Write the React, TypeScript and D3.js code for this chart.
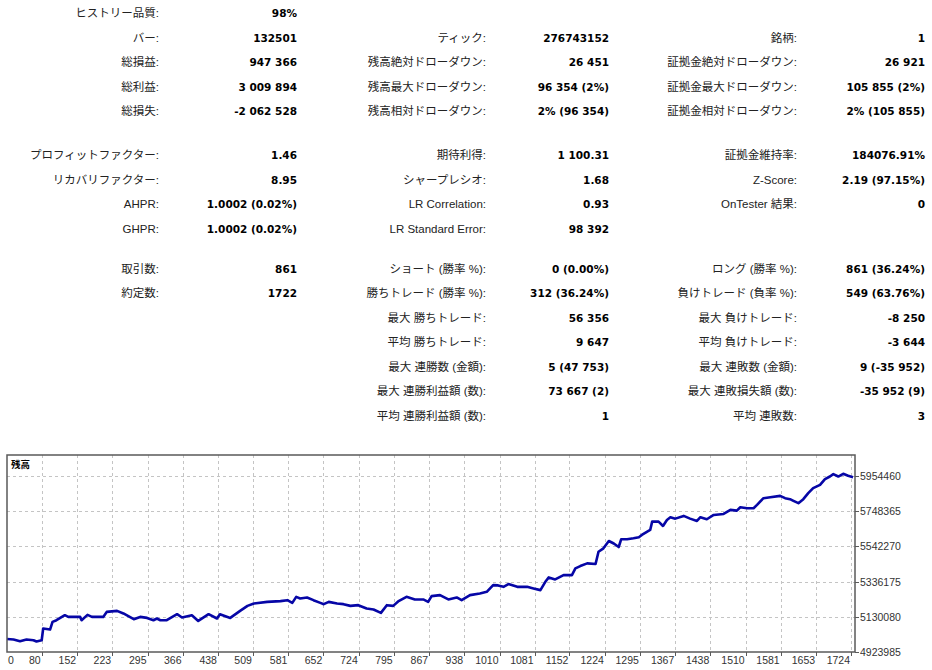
import * as d3 from "d3";

// --- report table ---
const col1Labels = ["ヒストリー品質:", "バー:", "総損益:", "総利益:", "総損失:", "プロフィットファクター:", "リカバリファクター:", "AHPR:", "GHPR:", "取引数:", "約定数:"];
const col1Values = ["98%", "132501", "947 366", "3 009 894", "-2 062 528", "1.46", "8.95", "1.0002 (0.02%)", "1.0002 (0.02%)", "861", "1722"];
const col1Rows = [0, 1, 2, 3, 4, 5, 6, 7, 8, 9, 10];

const col2Labels = ["ティック:", "残高絶対ドローダウン:", "残高最大ドローダウン:", "残高相対ドローダウン:", "期待利得:", "シャープレシオ:", "LR Correlation:", "LR Standard Error:", "ショート (勝率 %):", "勝ちトレード (勝率 %):", "最大 勝ちトレード:", "平均 勝ちトレード:", "最大 連勝数 (金額):", "最大 連勝利益額 (数):", "平均 連勝利益額 (数):"];
const col2Values = ["276743152", "26 451", "96 354 (2%)", "2% (96 354)", "1 100.31", "1.68", "0.93", "98 392", "0 (0.00%)", "312 (36.24%)", "56 356", "9 647", "5 (47 753)", "73 667 (2)", "1"];
const col2Rows = [1, 2, 3, 4, 5, 6, 7, 8, 9, 10, 11, 12, 13, 14, 15];

const col3Labels = ["銘柄:", "証拠金絶対ドローダウン:", "証拠金最大ドローダウン:", "証拠金相対ドローダウン:", "証拠金維持率:", "Z-Score:", "OnTester 結果:", "ロング (勝率 %):", "負けトレード (負率 %):", "最大 負けトレード:", "平均 負けトレード:", "最大 連敗数 (金額):", "最大 連敗損失額 (数):", "平均 連敗数:"];
const col3Values = ["1", "26 921", "105 855 (2%)", "2% (105 855)", "184076.91%", "2.19 (97.15%)", "0", "861 (36.24%)", "549 (63.76%)", "-8 250", "-3 644", "9 (-35 952)", "-35 952 (9)", "3"];
const col3Rows = [1, 2, 3, 4, 5, 6, 7, 9, 10, 11, 12, 13, 14, 15];

// --- balance chart ---
const tradeIndex = [0, 15, 30, 45, 61, 68, 80, 83, 97, 102, 110, 127, 134, 158, 161, 173, 182, 205, 212, 233, 246, 267, 280, 294, 307, 314, 321, 334, 355, 365, 385, 398, 419, 436, 442, 463, 483, 498, 511, 538, 565, 579, 589, 597, 605, 619, 632, 646, 653, 663, 680, 693, 707, 723, 740, 754, 769, 781, 794, 804, 821, 838, 855, 865, 872, 889, 906, 923, 933, 950, 970, 984, 997, 1007, 1018, 1028, 1046, 1066, 1079, 1093, 1103, 1110, 1123, 1140, 1157, 1164, 1174, 1188, 1205, 1211, 1221, 1232, 1242, 1252, 1257, 1269, 1282, 1293, 1299, 1310, 1316, 1320, 1333, 1342, 1350, 1357, 1367, 1384, 1397, 1411, 1418, 1431, 1445, 1465, 1479, 1492, 1499, 1513, 1526, 1533, 1546, 1560, 1580, 1590, 1600, 1607, 1617, 1627, 1637, 1647, 1661, 1671, 1681, 1688, 1698, 1708, 1718, 1728];
const balance = [5000000, 4996800, 4986800, 4996800, 4992700, 4985100, 4992700, 5061400, 5055500, 5100100, 5110100, 5139500, 5129500, 5129500, 5110100, 5141200, 5129500, 5129500, 5158800, 5164700, 5149500, 5116000, 5129500, 5123600, 5110100, 5120100, 5110100, 5110100, 5145300, 5126000, 5139500, 5106000, 5145300, 5120100, 5145300, 5123600, 5164700, 5194100, 5208200, 5217600, 5221700, 5227500, 5211700, 5246900, 5237500, 5243400, 5227500, 5211700, 5204100, 5217600, 5208200, 5204100, 5194100, 5198200, 5178800, 5172900, 5153000, 5198200, 5194100, 5219900, 5246900, 5231700, 5231700, 5217600, 5251000, 5256900, 5231700, 5243400, 5227500, 5256900, 5266900, 5276300, 5315600, 5313900, 5305600, 5321500, 5305600, 5305600, 5296200, 5286300, 5335000, 5360800, 5349100, 5374300, 5374300, 5413700, 5427200, 5443000, 5438900, 5511100, 5531100, 5574000, 5559300, 5538700, 5584000, 5584000, 5589800, 5595700, 5609200, 5628600, 5638600, 5687300, 5687300, 5662000, 5697300, 5713100, 5704900, 5720800, 5704900, 5691400, 5713100, 5701400, 5726600, 5732500, 5756000, 5751900, 5771800, 5766000, 5766000, 5785300, 5824700, 5830600, 5838200, 5824700, 5818800, 5808800, 5795300, 5818800, 5854000, 5883400, 5902800, 5936200, 5951500, 5965600, 5951500, 5967400, 5955600, 5947366];
const xTicks = [0, 80, 152, 223, 295, 366, 438, 509, 581, 652, 724, 795, 867, 938, 1010, 1081, 1152, 1224, 1295, 1367, 1438, 1510, 1581, 1653, 1724];
const yTicks = [4923985, 5130080, 5336175, 5542270, 5748365, 5954460];

const labelFont = "'Liberation Sans', 'Noto Sans CJK JP', sans-serif";
const valueFont = "'DejaVu Sans', 'Noto Sans CJK JP', sans-serif";

function Column({ labels, values, rows, labelX, valueX, rowY }: any) {
  return (
    <g>
      {labels.map((l: string, i: number) => (
        <g key={i}>
          <text x={labelX} y={rowY(rows[i]) + 4} textAnchor="end" fontFamily={labelFont} fontSize={11.5} fill="#222">{l}</text>
          <text x={valueX} y={rowY(rows[i]) + 4} textAnchor="end" fontFamily={valueFont} fontWeight="bold" fontSize={10.5} fill="#000">{values[i]}</text>
        </g>
      ))}
    </g>
  );
}

export default function App() {
  const W = 932;
  const H = 670;
  // row layout: three sections with extra spacing
  const sectionStart = [13, 155, 268.5];
  const sectionFirstRow = [0, 5, 9];
  const step = 24.5;
  const rowY = (r: number) => {
    const s = r >= 9 ? 2 : r >= 5 ? 1 : 0;
    return sectionStart[s] + (r - sectionFirstRow[s]) * step;
  };

  const frame = { left: 7, right: 855, top: 455, bottom: 652 };
  const x = d3.scaleLinear().domain([0, 80, 1732]).range([frame.left, 41.7, frame.right]);
  const y = d3.scaleLinear().domain([4923985, 6077500]).range([frame.bottom, frame.top]);
  const line = d3
    .line<number>()
    .x((_, i) => x(tradeIndex[i]))
    .y((d) => y(d));

  return (
    <svg width={W} height={H} style={{ position: "absolute", left: 0, top: 0, display: "block", background: "#fff" }}>
      <Column labels={col1Labels} values={col1Values} rows={col1Rows} labelX={159} valueX={297} rowY={rowY} />
      <Column labels={col2Labels} values={col2Values} rows={col2Rows} labelX={486} valueX={609} rowY={rowY} />
      <Column labels={col3Labels} values={col3Values} rows={col3Rows} labelX={797} valueX={925} rowY={rowY} />

      {/* grid */}
      {yTicks.slice(1).map((t) => (
        <line key={"gy" + t} x1={frame.left} x2={frame.right} y1={Math.round(y(t)) + 0.5} y2={Math.round(y(t)) + 0.5} stroke="#c4c4c4" strokeDasharray="3,3" />
      ))}
      {xTicks.slice(1).map((t) => (
        <line key={"gx" + t} x1={Math.round(x(t)) + 0.5} x2={Math.round(x(t)) + 0.5} y1={frame.top} y2={frame.bottom} stroke="#c4c4c4" strokeDasharray="3,3" />
      ))}

      {/* balance line */}
      <path d={line(balance) || ""} fill="none" stroke="#0606a6" strokeWidth={2.6} strokeLinejoin="round" />

      {/* frame */}
      <rect x={frame.left} y={frame.top} width={frame.right - frame.left} height={frame.bottom - frame.top} fill="none" stroke="#5a5a5a" strokeWidth={1.5} />
      <text x={11} y={468} fontFamily={labelFont} fontSize={9.5} fontWeight="bold" fill="#000">残高</text>

      {/* y axis */}
      {yTicks.map((t) => (
        <g key={"yt" + t}>
          <line x1={frame.right} x2={frame.right + 4} y1={Math.round(y(t)) + 0.5} y2={Math.round(y(t)) + 0.5} stroke="#5a5a5a" />
          <text x={frame.right + 5} y={y(t) + 4} fontFamily={labelFont} fontSize={10.5} fill="#333">{t}</text>
        </g>
      ))}

      {/* x axis */}
      {xTicks.map((t, i) => (
        <g key={"xt" + t}>
          {i > 0 && <line x1={Math.round(x(t)) + 0.5} x2={Math.round(x(t)) + 0.5} y1={frame.bottom} y2={frame.bottom + 4} stroke="#5a5a5a" />}
          <text x={i === 0 ? x(t) + 1 : x(t) - 1} y={663.5} textAnchor={i === 0 ? "start" : "end"} fontFamily={labelFont} fontSize={10.5} fill="#333">{t}</text>
        </g>
      ))}
    </svg>
  );
}
